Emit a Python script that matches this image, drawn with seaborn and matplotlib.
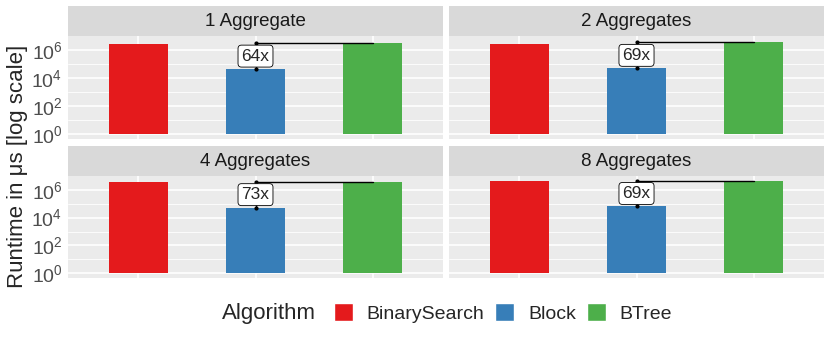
import numpy as np
import pandas as pd
import seaborn as sns
import matplotlib.pyplot as plt
from matplotlib.patches import Rectangle, Patch

# Runtime values (microseconds)
panels = ["1 Aggregate", "2 Aggregates", "4 Aggregates", "8 Aggregates"]
algorithms = ["BinarySearch", "Block", "BTree"]
binary_us = [2.6e6, 2.7e6, 3.5e6, 4.1e6]
block_us = [4.5e4, 4.9e4, 5.2e4, 6.5e4]
btree_us = [2.9e6, 3.4e6, 3.8e6, 4.5e6]
colors = {"BinarySearch": "#E41A1C", "Block": "#377EB8", "BTree": "#4DAF4A"}

rows = []
for i, p in enumerate(panels):
    for algo, vals in zip(algorithms, [binary_us, block_us, btree_us]):
        rows.append({"Panel": p, "Algorithm": algo, "Runtime": vals[i]})
df = pd.DataFrame(rows)
# bars start at 10^0 like a log10-transformed scale
df["logt"] = np.log10(df["Runtime"])

sns.set_style("white")
plt.rcParams["font.family"] = ["Liberation Sans", "DejaVu Sans"]
plt.rcParams["mathtext.fontset"] = "custom"
plt.rcParams["mathtext.rm"] = "Liberation Sans"
plt.rcParams["mathtext.it"] = "Liberation Sans:italic"

W, H = 830, 339
fig = plt.figure(figsize=(W / 100, H / 100), dpi=100)

# panel boxes in pixels: left, top, width, height
boxes = [(68, 36, 375, 103), (449, 36, 375, 103),
         (68, 176, 375, 102), (449, 176, 375, 102)]

ymax = df["logt"].max()
ylim = (-0.05 * ymax, ymax * 1.05)

for i, (p, (l, t, w, h)) in enumerate(zip(panels, boxes)):
    ax = fig.add_axes([l / W, (H - t - h) / H, w / W, h / H])
    sub = df[df["Panel"] == p]
    ax.set_facecolor("#EBEBEB")
    for yv in [1, 3, 5]:
        ax.axhline(yv, color="white", lw=0.6, zorder=0)
    for yv in [0, 2, 4, 6]:
        ax.axhline(yv, color="white", lw=1.2, zorder=0)
    for xv in range(3):
        ax.axvline(xv, color="white", lw=1.2, zorder=0)
    sns.barplot(data=sub, x="Algorithm", y="logt", hue="Algorithm", order=algorithms,
                palette=colors, width=0.5, legend=False, ax=ax, zorder=2, saturation=1,
                linewidth=0)
    ax.set_xlim(-0.6, 2.6)
    ax.set_ylim(*ylim)
    for s in ax.spines.values():
        s.set_visible(False)
    ax.set_xlabel("")
    ax.set_ylabel("")
    ax.set_yticks([0, 2, 4, 6])
    if i % 2 == 0:
        ax.set_yticklabels([f"$10^{{{k}}}$" for k in [0, 2, 4, 6]])
    else:
        ax.set_yticklabels([])
    ax.tick_params(axis="y", length=3 if i % 2 == 0 else 0, width=0.6, color="#333333",
                   labelsize=14, labelcolor="#4D4D4D", pad=1)
    ax.tick_params(axis="x", length=3 if i >= 2 else 0, width=0.6, color="#333333",
                   labelbottom=False)

    # speedup annotation Block -> BTree
    b = np.log10(block_us[i])
    g = np.log10(btree_us[i])
    ax.plot([1, 1], [b, g], color="black", lw=1, marker="o", ms=2, zorder=3)
    ax.plot([1, 2], [g, g], color="black", lw=1, zorder=3)
    ax.text(1, (b + g) / 2, f"{btree_us[i] / block_us[i]:.0f}x", ha="center", va="center",
            fontsize=12.5, zorder=4,
            bbox=dict(boxstyle="round,pad=0.2,rounding_size=0.2", fc="white", ec="black", lw=0.6))

    # facet strip
    sh = 30 / h
    ax.add_patch(Rectangle((0, 1), 1, sh, transform=ax.transAxes, facecolor="#D9D9D9",
                           edgecolor="none", clip_on=False))
    ax.text(0.5, 1 + sh / 2, p, transform=ax.transAxes, ha="center", va="center",
            fontsize=13.5, color="#1A1A1A")

fig.text(18 / W, 1 - 166 / H, "Runtime in μs [log scale]", rotation=90,
         ha="center", va="center", fontsize=16)

# legend at the bottom with the title on the left
fig.text(222 / W, 1 - 313 / H, "Algorithm", ha="left", va="center", fontsize=16)
handles = [Patch(facecolor=colors[a], label=a) for a in algorithms]
fig.legend(handles=handles, loc="center left", bbox_to_anchor=(316 / W, 1 - 313 / H),
           ncol=3, frameon=False, fontsize=14, handlelength=1.0, handleheight=1.0,
           handletextpad=0.7, columnspacing=0.55)

fig.savefig("out.png", dpi=100)
